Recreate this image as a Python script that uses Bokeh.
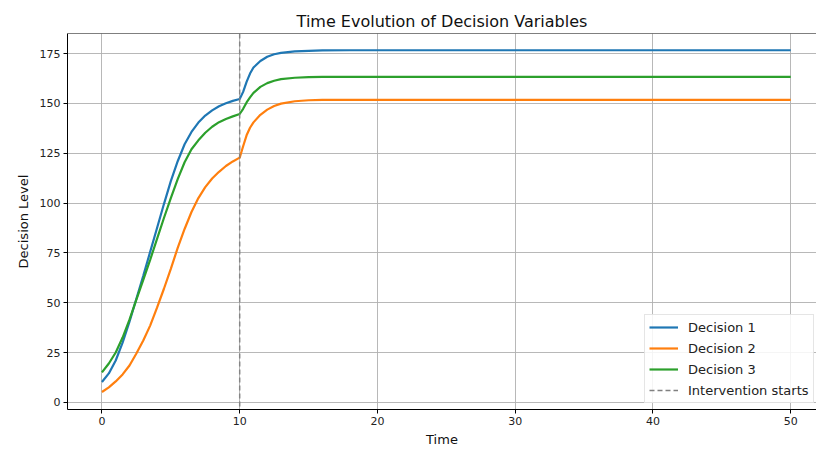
from bokeh.plotting import figure
from bokeh.models import Range1d, Span, Legend, LegendItem, FixedTicker
from bokeh.embed import file_html
from bokeh.resources import INLINE

# Data
T = [0, 0.5, 1, 1.5, 2, 2.5, 3, 3.5, 4, 4.5, 5, 5.5, 6, 6.5, 7, 7.5, 8, 8.5, 9, 9.5, 10,
     10.25, 10.5, 10.75, 11, 11.5, 12, 12.5, 13, 14, 15, 16, 18, 20, 30, 40, 50]
decision_1 = [10.2, 14.5, 21, 30, 40.5, 52, 63.5, 75.5, 87.5, 99.5, 111, 121, 129.5, 135.7, 140.4, 143.9,
              146.5, 148.6, 150.1, 151.3, 152.2,
              155.8, 160.8, 165, 168, 171.3, 173.4, 174.7, 175.4, 176.1, 176.4, 176.6, 176.7, 176.7,
              176.7, 176.7, 176.7]
decision_2 = [5.2, 7.5, 10.5, 14, 18.5, 24.5, 31, 38.5, 47.5, 57, 67, 77.5, 87, 95.5, 102.5, 108,
              112.3, 115.7, 118.6, 120.9, 122.8,
              128.5, 134, 137.8, 140.5, 144.3, 146.9, 148.7, 149.9, 151.1, 151.6, 151.8, 151.8, 151.8,
              151.8, 151.8, 151.8]
decision_3 = [15, 19.5, 25, 32.5, 41.5, 51.5, 61.5, 71.5, 82, 92.5, 102.5, 112, 120.5, 127, 131.5, 135.3,
              138.3, 140.6, 142.2, 143.5, 144.7,
              147.3, 150.5, 153, 155.3, 158.3, 160.2, 161.4, 162.2, 162.9, 163.2, 163.3, 163.3, 163.3,
              163.3, 163.3, 163.3]
intervention_t = 10
x_ticks = [0, 10, 20, 30, 40, 50]
y_ticks = [0, 25, 50, 75, 100, 125, 150, 175]
series_names = ["Decision 1", "Decision 2", "Decision 3"]
colors = ["#1f77b4", "#ff7f0e", "#2ca02c"]

FONT = "DejaVu Sans"
Y_END = 185.1

p = figure(width=816, height=452, output_backend="svg", toolbar_location=None,
           x_range=Range1d(-2.5, 51.87), y_range=Range1d(-3.6, Y_END),
           title="Time Evolution of Decision Variables")
p.min_border_left = 67
p.min_border_right = 0
p.min_border_top = 33
p.min_border_bottom = 43
p.outline_line_color = None
p.background_fill_color = "white"
p.border_fill_color = "white"

p.title.align = "center"
p.title.text_font = FONT
p.title.text_font_size = "16px"
p.title.text_font_style = "normal"
p.title.text_color = "#111111"
p.title.offset = 4
p.title.standoff = 6

for ax in (p.xaxis[0], p.yaxis[0]):
    ax.major_label_text_font = FONT
    ax.major_label_text_font_size = "11px"
    ax.major_label_text_color = "#222222"
    ax.axis_label_text_font = FONT
    ax.axis_label_text_font_size = "13px"
    ax.axis_label_text_font_style = "normal"
    ax.axis_label_text_color = "#111111"
    ax.axis_line_color = "black"
    ax.axis_line_width = 1
    ax.major_tick_line_color = "black"
    ax.major_tick_out = 4
    ax.major_tick_in = 0
    ax.minor_tick_line_color = None
    ax.major_label_standoff = 3

p.xaxis.ticker = FixedTicker(ticks=x_ticks)
p.yaxis.ticker = FixedTicker(ticks=y_ticks)
p.xaxis.axis_label = "Time"
p.yaxis.axis_label = "Decision Level"
p.xaxis.axis_label_standoff = 4
p.yaxis.axis_label_standoff = 6

p.xgrid.ticker = FixedTicker(ticks=x_ticks)
p.ygrid.ticker = FixedTicker(ticks=y_ticks)
for g in (p.xgrid[0], p.ygrid[0]):
    g.grid_line_color = "#b0b0b0"
    g.grid_line_width = 0.9

# top spine
p.add_layout(Span(location=Y_END, dimension="width", line_color="black", line_width=1))

items = []
for name, ys, c in zip(series_names, [decision_1, decision_2, decision_3], colors):
    r = p.line(T, ys, line_color=c, line_width=2.2)
    items.append(LegendItem(label=name, renderers=[r]))

p.add_layout(Span(location=intervention_t, dimension="height", line_color="gray",
                  line_width=1.5, line_dash="5 3", line_alpha=0.9))
dummy = p.line(x=[float("nan")], y=[float("nan")], line_color="gray", line_width=1.5,
               line_dash="5 3")
items.append(LegendItem(label="Intervention starts", renderers=[dummy]))

legend = Legend(items=items, location=(577, 6))
legend.label_text_font = FONT
legend.label_text_font_size = "13px"
legend.label_text_color = "#222222"
legend.glyph_width = 29
legend.glyph_height = 16
legend.label_height = 16
legend.spacing = 5
legend.padding = 4
legend.margin = 0
legend.label_standoff = 10
legend.border_line_color = "#cccccc"
legend.border_line_width = 1
legend.background_fill_alpha = 0.85
p.add_layout(legend, "center")

open("out.html", "w").write(file_html(p, INLINE))
